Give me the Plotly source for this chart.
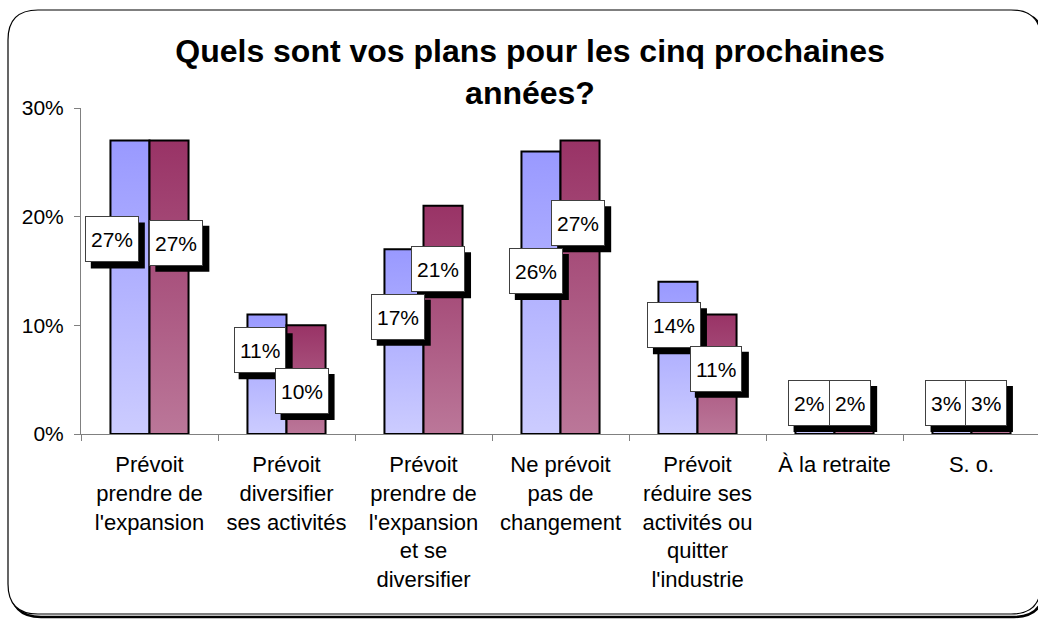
import plotly.graph_objects as go

# ---------------- data ----------------
categories = [
    "Prévoit<br>prendre de<br>l'expansion",
    "Prévoit<br>diversifier<br>ses activités",
    "Prévoit<br>prendre de<br>l'expansion<br>et se<br>diversifier",
    "Ne prévoit<br>pas de<br>changement",
    "Prévoit<br>réduire ses<br>activités ou<br>quitter<br>l'industrie",
    "À la retraite",
    "S. o.",
]
series_a = [0.27, 0.11, 0.17, 0.26, 0.14, 0.02, 0.03]
series_b = [0.27, 0.10, 0.21, 0.27, 0.11, 0.02, 0.03]
y_ticks = [0, 0.1, 0.2, 0.3]
y_tick_labels = ["0%", "10%", "20%", "30%"]
title_text = "Quels sont vos plans pour les cinq prochaines<br>années?"

# ------------- label placement (positions, not data) -------------
label_dx_a = [-0.275, -0.196, -0.188, -0.180, -0.172, -0.188, -0.188]
label_y_a = [0.179, 0.077, 0.108, 0.150, 0.100, 0.0285, 0.0285]
label_dx_b = [0.196, 0.110, 0.106, 0.129, 0.134, 0.113, 0.104]
label_y_b = [0.176, 0.0396, 0.1515, 0.194, 0.060, 0.0285, 0.0285]

# ------------- style -------------
FONT = "Arial, 'Liberation Sans', sans-serif"
LABEL_SIZE = 21
LABEL_PAD = 5
LABEL_H = 34
SHADOW = 6
BAR_W = 0.285
BLUE_SCALE = [[0, "#CCCCFF"], [1, "#9999FF"]]
RED_SCALE = [[0, "#BB7799"], [1, "#993366"]]
AXIS_COLOR = "#808080"
CHAR_W = {"%": 0.889}  # Arial advance widths (em); digits 0.556

W_PX, H_PX = 1038, 619
M_L, M_R, M_T, M_B = 81, 0, 108, 185
PW = W_PX - M_L - M_R
PH = H_PX - M_T - M_B

fig = go.Figure()


def add_bar(xc, v, side, scale):
    x0 = xc - BAR_W if side < 0 else xc
    x1 = x0 + BAR_W
    fig.add_trace(go.Scatter(
        x=[x0, x0, x1, x1, x0], y=[0, v, v, 0, 0],
        mode="lines", fill="toself",
        fillgradient=dict(type="vertical", colorscale=scale),
        line=dict(color="black", width=2),
        hoverinfo="skip", showlegend=False,
    ))


for i, (a, b) in enumerate(zip(series_a, series_b)):
    add_bar(i, a, -1, BLUE_SCALE)
    add_bar(i, b, 1, RED_SCALE)

annotations = []
shapes = []


def add_label(x, y, v):
    txt = f"{round(v * 100)}%"
    tw = sum(CHAR_W.get(c, 0.556) for c in txt) * LABEL_SIZE
    w = tw + 2 * LABEL_PAD + 2
    h = LABEL_H + 2 * LABEL_PAD + 2
    # drop shadow as a pixel-sized rectangle anchored at the label position
    shapes.append(dict(type="rect", xref="x", yref="y", xsizemode="pixel", ysizemode="pixel",
                       xanchor=x, yanchor=y,
                       x0=-w / 2 + SHADOW, x1=w / 2 + SHADOW,
                       y0=-h / 2 - SHADOW, y1=h / 2 - SHADOW,
                       fillcolor="black", line=dict(width=0), layer="above"))
    annotations.append(dict(x=x, y=y, xref="x", yref="y", text=txt, showarrow=False,
                            xanchor="center", yanchor="middle", height=LABEL_H,
                            borderpad=LABEL_PAD, borderwidth=1,
                            font=dict(family=FONT, size=LABEL_SIZE, color="black"),
                            bgcolor="white", bordercolor="#404040"))


for i, v in enumerate(series_a):
    add_label(i + label_dx_a[i], label_y_a[i], v)
for i, v in enumerate(series_b):
    add_label(i + label_dx_b[i], label_y_b[i], v)


# rounded frame with shadow
def px2paper(px, py):
    return (px - M_L) / PW, (M_T + PH - py) / PH


def rounded_path(x0, y0, x1, y1, r):
    pts = [
        ("M", [(x0 + r, y0)]),
        ("L", [(x1 - r, y0)]),
        ("Q", [(x1, y0), (x1, y0 + r)]),
        ("L", [(x1, y1 - r)]),
        ("Q", [(x1, y1), (x1 - r, y1)]),
        ("L", [(x0 + r, y1)]),
        ("Q", [(x0, y1), (x0, y1 - r)]),
        ("L", [(x0, y0 + r)]),
        ("Q", [(x0, y0), (x0 + r, y0)]),
    ]
    s = ""
    for cmd, ps in pts:
        s += cmd + " " + " ".join(f"{px2paper(*p)[0]:.5f},{px2paper(*p)[1]:.5f}" for p in ps) + " "
    return s + "Z"


shapes = [
    dict(type="path", xref="paper", yref="paper", layer="below",
         path=rounded_path(11, 13, 1044, 617, 30), line=dict(color="black", width=2.5)),
    dict(type="path", xref="paper", yref="paper", layer="below",
         path=rounded_path(8, 10, 1041, 614, 30), line=dict(color="black", width=1.2),
         fillcolor="white"),
] + shapes

fig.update_layout(
    width=W_PX, height=H_PX,
    margin=dict(l=M_L, r=M_R, t=M_T, b=M_B, pad=0),
    paper_bgcolor="white", plot_bgcolor="rgba(0,0,0,0)",
    font=dict(family=FONT, color="black"),
    title=dict(text=title_text, x=530 / W_PX, xanchor="center", xref="container",
               y=1 - 62 / H_PX, yanchor="top", yref="container",
               font=dict(family=FONT, size=32, color="black", weight="bold")),
    showlegend=False,
    shapes=shapes,
    annotations=annotations,
    xaxis=dict(
        range=[-0.5, -0.5 + PW / 137.0], tickmode="array", tickvals=list(range(len(categories))),
        ticktext=categories, ticks="", showline=True, linecolor=AXIS_COLOR, linewidth=1,
        showgrid=False, zeroline=False, tickfont=dict(family=FONT, size=22, color="black"),
        ticklabelstandoff=11,
        minor=dict(ticks="outside", ticklen=6, tickcolor=AXIS_COLOR, tickwidth=1,
                   tickmode="array", tickvals=[k - 0.5 for k in range(len(categories))],
                   showgrid=False),
        fixedrange=True,
    ),
    yaxis=dict(
        range=[0, 0.30], tickmode="array", tickvals=y_ticks, ticktext=y_tick_labels,
        ticks="outside", ticklen=6, tickcolor=AXIS_COLOR, showline=True, linecolor=AXIS_COLOR,
        linewidth=1, showgrid=False, zeroline=False,
        tickfont=dict(family=FONT, size=21, color="black"), ticklabelstandoff=6,
        fixedrange=True,
    ),
)

fig.write_html("out.html")
